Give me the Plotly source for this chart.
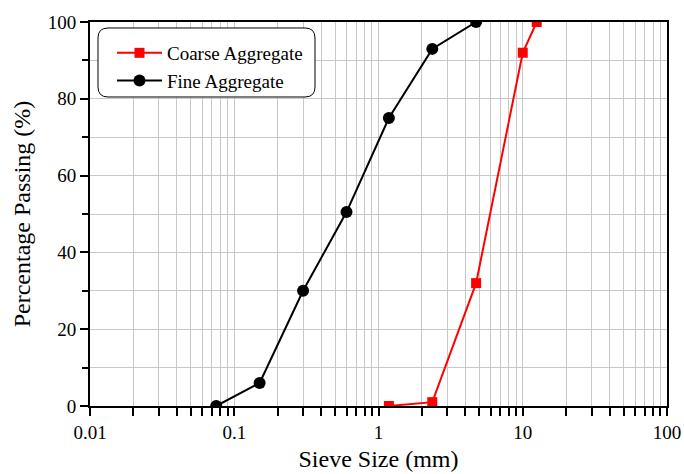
import plotly.graph_objects as go

fine_x = [0.075, 0.15, 0.3, 0.6, 1.18, 2.36, 4.75]
fine_y = [0, 6, 30, 50.5, 75, 93, 100]
coarse_x = [1.18, 2.36, 4.75, 10, 12.5]
coarse_y = [0, 1, 32, 92, 100]

major_vals = [0.01, 0.1, 1, 10, 100]
major_text = ["0.01", "0.1", "1", "10", "100"]
minor_vals = [m * d for d in [0.01, 0.1, 1, 10] for m in range(2, 10)]

FONT = "'Liberation Serif', 'Times New Roman', serif"
GRID = "#c8c8c8"

fig = go.Figure()
fig.add_trace(go.Scatter(x=coarse_x, y=coarse_y, mode="lines+markers", name="Coarse Aggregate",
                         line=dict(color="#ff0000", width=2),
                         marker=dict(symbol="square", size=10, color="#ff0000")))
fig.add_trace(go.Scatter(x=fine_x, y=fine_y, mode="lines+markers", name="Fine Aggregate",
                         line=dict(color="black", width=2),
                         marker=dict(symbol="circle", size=12, color="black")))

W, H = 684, 474
ml, mr, mt, mb = 90, 17, 22, 68
pw, ph = W - ml - mr, H - mt - mb

def px2paper(x, y):
    return (x - ml) / pw, 1 - (y - mt) / ph

x0, y0, x1, y1, r = 98, 28, 315, 97, 10
def P(x, y):
    a, b = px2paper(x, y)
    return f"{a:.5f},{b:.5f}"
path = (f"M {P(x0+r,y0)} L {P(x1-r,y0)} Q {P(x1,y0)} {P(x1,y0+r)} L {P(x1,y1-r)} "
        f"Q {P(x1,y1)} {P(x1-r,y1)} L {P(x0+r,y1)} Q {P(x0,y1)} {P(x0,y1-r)} "
        f"L {P(x0,y0+r)} Q {P(x0,y0)} {P(x0+r,y0)} Z")
fig.add_shape(type="path", path=path, xref="paper", yref="paper",
              line=dict(color="black", width=1), fillcolor="white", layer="above")

lx, ly = px2paper(112, 34)
fig.update_layout(
    width=W, height=H,
    margin=dict(l=ml, r=mr, t=mt, b=mb, autoexpand=False),
    plot_bgcolor="white", paper_bgcolor="white",
    font=dict(family=FONT, color="black", size=16),
    showlegend=True,
    legend=dict(x=lx, y=ly, xanchor="left", yanchor="top", bgcolor="rgba(0,0,0,0)",
                font=dict(family=FONT, size=19), tracegroupgap=0, itemwidth=45),
    xaxis=dict(type="log", range=[-2, 2], tickvals=major_vals, ticktext=major_text,
               ticks="outside", ticklen=8, tickwidth=2, tickcolor="black",
               showline=True, linecolor="black", linewidth=2, mirror=True,
               showgrid=True, gridcolor=GRID, gridwidth=1, automargin=False,
               tickfont=dict(family=FONT, size=19),
               title=dict(text="Sieve Size (mm)", font=dict(family=FONT, size=24), standoff=8),
               minor=dict(tickvals=minor_vals, ticks="outside", ticklen=8, tickwidth=2,
                          tickcolor="black", showgrid=True, gridcolor=GRID, gridwidth=1),
               zeroline=False),
    yaxis=dict(range=[0, 100], tickvals=[0, 20, 40, 60, 80, 100],
               ticks="outside", ticklen=8, tickwidth=2, tickcolor="black",
               showline=True, linecolor="black", linewidth=2, mirror=True,
               showgrid=True, gridcolor=GRID, gridwidth=1, automargin=False,
               tickfont=dict(family=FONT, size=19),
               title=dict(text="Percentage Passing (%)", font=dict(family=FONT, size=24), standoff=10),
               minor=dict(tickvals=[10, 30, 50, 70, 90], ticks="outside", ticklen=6, tickwidth=2,
                          tickcolor="black", showgrid=True, gridcolor=GRID, gridwidth=1),
               zeroline=False),
)
fig.write_html("out.html")
